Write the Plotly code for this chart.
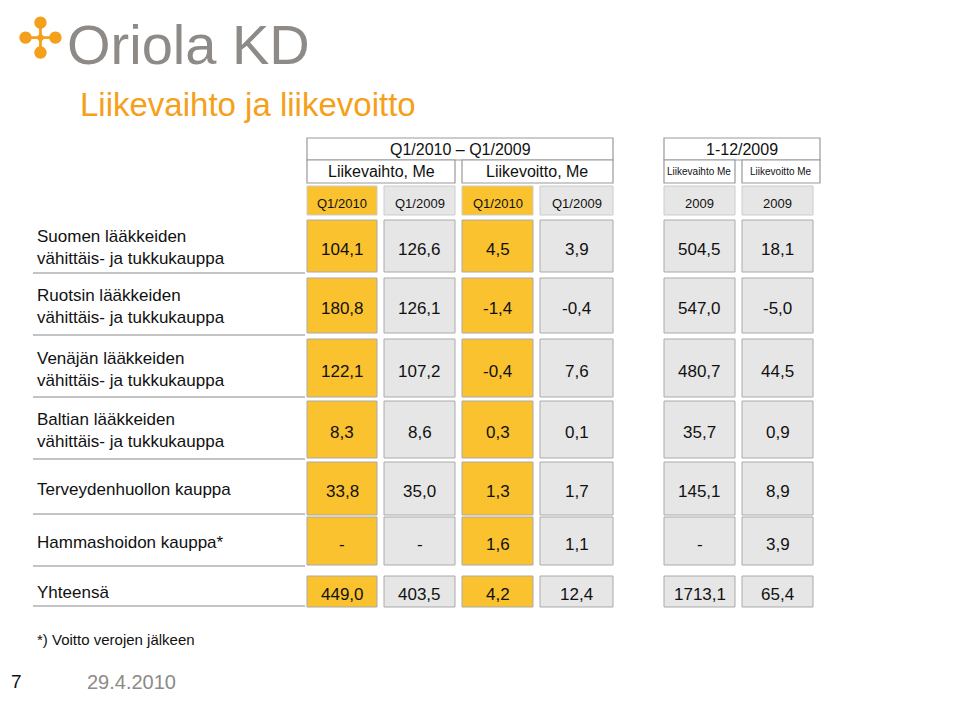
import plotly.graph_objects as go

rows = ["Suomen lääkkeiden<br>vähittäis- ja tukkukauppa",
        "Ruotsin lääkkeiden<br>vähittäis- ja tukkukauppa",
        "Venäjän lääkkeiden<br>vähittäis- ja tukkukauppa",
        "Baltian lääkkeiden<br>vähittäis- ja tukkukauppa",
        "Terveydenhuollon kauppa",
        "Hammashoidon kauppa*",
        "Yhteensä"]
col_heads = ["Q1/2010", "Q1/2009", "Q1/2010", "Q1/2009", "2009", "2009"]
sales_q1_2010 = ["104,1", "180,8", "122,1", "8,3", "33,8", "-", "449,0"]
sales_q1_2009 = ["126,6", "126,1", "107,2", "8,6", "35,0", "-", "403,5"]
ebit_q1_2010 = ["4,5", "-1,4", "-0,4", "0,3", "1,3", "1,6", "4,2"]
ebit_q1_2009 = ["3,9", "-0,4", "7,6", "0,1", "1,7", "1,1", "12,4"]
sales_2009 = ["504,5", "547,0", "480,7", "35,7", "145,1", "-", "1713,1"]
ebit_2009 = ["18,1", "-5,0", "44,5", "0,9", "8,9", "3,9", "65,4"]
columns = [sales_q1_2010, sales_q1_2009, ebit_q1_2010, ebit_q1_2009, sales_2009, ebit_2009]

YEL, GRY = "#F9C22E", "#E6E6E6"
col_x = [(307, 377), (384, 455), (462, 533), (540, 613), (664, 735), (742, 813)]
col_fill = [YEL, GRY, YEL, GRY, GRY, GRY]
row_y = [(220, 272), (278, 333), (339, 397), (401, 458), (462, 515), (517, 565), (576, 607)]
sep_y = [273, 335, 397, 459, 514, 566, 606]

fig = go.Figure()
fig.add_trace(go.Scatter(x=[10, 960], y=[10, 722], mode="markers", marker=dict(opacity=0), hoverinfo="skip"))
shapes, ann = [], []
F = "Liberation Sans, Arial"

def txt(x, y, t, size, color="#111", xanchor="center"):
    ann.append(dict(x=x, y=y, text=t, showarrow=False, xanchor=xanchor, yanchor="middle",
                    align="left", font=dict(family=F, size=size, color=color)))

def box(x0, y0, x1, y1, fill="white", line="#999", w=1.2):
    shapes.append(dict(type="rect", x0=x0, x1=x1, y0=y0, y1=y1, fillcolor=fill,
                       line=dict(color=line, width=w), layer="below"))

# logo + title
txt(188, 44, "Oriola KD", 56, "#8E8A87")
txt(40, 38, "✣", 56, "#F5A01A")
txt(78, 104, "Liikevaihto ja liikevoitto", 33, "#F5A01A", "left")

# group headers
box(307, 138, 613, 160); txt(460, 149, "Q1/2010 – Q1/2009", 16)
box(307, 160, 455, 183); txt(381, 171, "Liikevaihto, Me", 16)
box(462, 160, 613, 183); txt(537, 171, "Liikevoitto, Me", 16)
box(664, 138, 820, 160); txt(742, 149, "1-12/2009", 16)
box(664, 160, 735, 183); txt(699, 171, "Liikevaihto Me", 10)
box(742, 160, 820, 183); txt(781, 171, "Liikevoitto Me", 10)

for j, (x0, x1) in enumerate(col_x):
    box(x0, 186, x1, 215, col_fill[j], "#CCC", 1)
    txt((x0 + x1) / 2, 203, col_heads[j], 13)
    for i, (y0, y1) in enumerate(row_y):
        box(x0, y0, x1, y1, col_fill[j], "#AAA", 1)
        txt((x0 + x1) / 2, (y0 + y1) / 2 + 3, columns[j][i], 17)

for i, lab in enumerate(rows):
    y0, y1 = row_y[i]
    txt(35, (y0 + y1) / 2 + 1, lab, 17, "#111", "left")
    shapes.append(dict(type="line", x0=33, x1=305, y0=sep_y[i], y1=sep_y[i],
                       line=dict(color="#888", width=1)))

txt(35, 639, "*) Voitto verojen jälkeen", 15, "#111", "left")
txt(9, 681, "7", 19, "#111", "left")
txt(85, 682, "29.4.2010", 20, "#8E8A87", "left")

fig.update_layout(width=960, height=722, margin=dict(l=0, r=0, t=0, b=0),
                  plot_bgcolor="white", paper_bgcolor="white", showlegend=False,
                  shapes=shapes, annotations=ann,
                  xaxis=dict(range=[8, 968], visible=False, fixedrange=True),
                  yaxis=dict(range=[730, 8], visible=False, fixedrange=True))
fig.write_html("out.html", config={"displayModeBar": False})
